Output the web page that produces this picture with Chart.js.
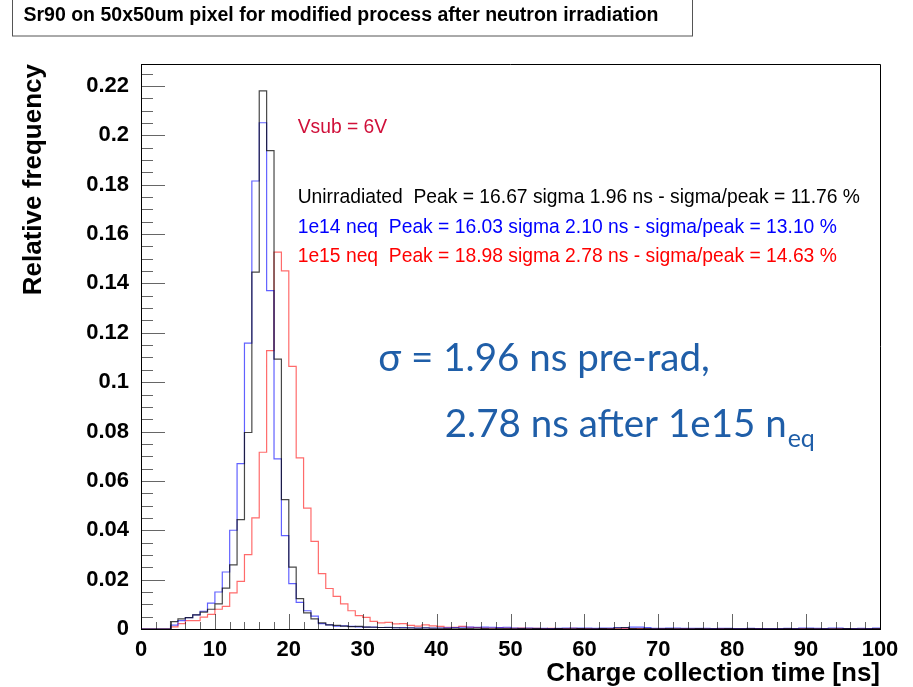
<!DOCTYPE html>
<html>
<head>
<meta charset="utf-8">
<script src="https://cdn.jsdelivr.net/npm/chart.js@4/dist/chart.umd.min.js"></script>
<style>
  html, body { margin: 0; padding: 0; background: #fff; }
  #wrap { width: 913px; height: 687px; position: relative; }
</style>
</head>
<body>
<div id="wrap"><canvas id="c" width="913" height="687"></canvas></div>
<script>
// Histogram bin low edges, 1 ns wide bins from 0 to 100 ns (last entry closes the final bin)
const binEdges = [
  0,1,2,3,4,5,6,7,8,9,10,11,12,13,14,15,16,17,18,19,
  20,21,22,23,24,25,26,27,28,29,30,31,32,33,34,35,36,37,38,39,
  40,41,42,43,44,45,46,47,48,49,50,51,52,53,54,55,56,57,58,59,
  60,61,62,63,64,65,66,67,68,69,70,71,72,73,74,75,76,77,78,79,
  80,81,82,83,84,85,86,87,88,89,90,91,92,93,94,95,96,97,98,99,100
];

// Relative frequency per bin
const unirradiated = [
  0,0,0,0,0.0030,0.0041,0.0046,0.0057,0.0068,0.0080,
  0.0102,0.0166,0.0260,0.0443,0.0796,0.1446,0.2180,0.1938,0.1093,0.0524,
  0.0251,0.0123,0.0065,0.0041,0.0025,0.0017,0.0015,0.0012,0.0010,0.0011,
  0.0008,0.0007,0.0006,0.0006,0.0005,0.0004,0.0004,0.0003,0.0004,0.0003,
  0.0003,0.0002,0.0003,0.0002,0.0002,0.0003,0.0002,0.0001,0.0002,0.0002,
  0.0001,0.0002,0.0001,0.0002,0.0001,0.0001,0.0002,0.0001,0.0001,0.0002,
  0.0001,0.0001,0.0002,0.0001,0.0004,0.0006,0.0002,0.0001,0.0002,0.0001,
  0.0001,0.0002,0.0001,0.0001,0.0001,0.0002,0.0001,0.0001,0.0001,0.0002,
  0.0001,0.0001,0.0002,0.0001,0.0001,0.0001,0.0001,0.0002,0.0001,0.0001,
  0.0002,0.0001,0.0001,0.0001,0.0001,0.0002,0.0001,0.0001,0.0001,0.0002
];
const neq1e14 = [
  0,0,0,0,0.0016,0.0034,0.0046,0.0057,0.0072,0.0105,
  0.0150,0.0231,0.0400,0.0670,0.1158,0.1815,0.2051,0.1371,0.0689,0.0378,
  0.0184,0.0108,0.0074,0.0052,0.0022,0.0017,0.0012,0.0013,0.0011,0.0009,
  0.0008,0.0008,0.0006,0.0007,0.0005,0.0006,0.0005,0.0004,0.0005,0.0004,
  0.0004,0.0005,0.0006,0.0007,0.0008,0.0007,0.0008,0.0007,0.0006,0.0007,
  0.0004,0.0003,0.0004,0.0003,0.0003,0.0002,0.0003,0.0004,0.0004,0.0004,
  0.0004,0.0003,0.0004,0.0004,0.0006,0.0005,0.0008,0.0008,0.0006,0.0003,
  0.0003,0.0004,0.0004,0.0003,0.0003,0.0003,0.0003,0.0002,0.0003,0.0003,
  0.0002,0.0002,0.0003,0.0002,0.0002,0.0002,0.0002,0.0003,0.0002,0.0004,
  0.0004,0.0003,0.0002,0.0004,0.0004,0.0002,0.0002,0.0003,0.0002,0.0004
];
const neq1e15 = [
  0,0,0,0,0.0009,0.0022,0.0034,0.0034,0.0048,0.0059,
  0.0080,0.0092,0.0146,0.0193,0.0301,0.0450,0.0716,0.1128,0.1527,0.1451,
  0.1064,0.0693,0.0490,0.0355,0.0224,0.0164,0.0132,0.0102,0.0074,0.0054,
  0.0047,0.0031,0.0025,0.0027,0.0021,0.0022,0.0015,0.0012,0.0017,0.0013,
  0.0011,0.0007,0.0007,0.0011,0.0007,0.0006,0.0004,0.0004,0.0005,0.0004,
  0.0003,0.0004,0.0003,0.0003,0.0002,0.0003,0.0002,0.0002,0.0003,0.0002,
  0.0002,0.0001,0.0002,0.0002,0.0001,0.0002,0.0001,0.0002,0.0001,0.0001,
  0.0002,0.0001,0.0001,0.0002,0.0001,0.0001,0.0001,0.0001,0.0002,0.0001,
  0.0001,0.0001,0.0001,0.0002,0.0001,0.0001,0.0001,0.0001,0.0001,0.0002,
  0.0001,0.0001,0.0001,0.0001,0.0002,0.0001,0.0001,0.0001,0.0001,0.0001
];

// Axis ticks
const xTickValues = [0,10,20,30,40,50,60,70,80,90,100];
const xTickLabels = ['0','10','20','30','40','50','60','70','80','90','100'];
const yTickValues = [0,0.02,0.04,0.06,0.08,0.1,0.12,0.14,0.16,0.18,0.2,0.22];
const yTickLabels = ['0','0.02','0.04','0.06','0.08','0.1','0.12','0.14','0.16','0.18','0.2','0.22'];

// Text
const plotTitle = 'Sr90 on 50x50um pixel for modified process after neutron irradiation';
const xTitle = 'Charge collection time [ns]';
const yTitle = 'Relative frequency';
const biasLabel = 'Vsub = 6V';
const seriesNames = ['Unirradiated', '1e14 neq', '1e15 neq'];
const fitLines = [
  'Unirradiated  Peak = 16.67 sigma 1.96 ns - sigma/peak = 11.76 %',
  '1e14 neq  Peak = 16.03 sigma 2.10 ns - sigma/peak = 13.10 %',
  '1e15 neq  Peak = 18.98 sigma 2.78 ns - sigma/peak = 14.63 %'
];
const noteLine1 = 'σ = 1.96 ns pre-rad,';
const noteLine2 = '2.78 ns after 1e15 n';
const noteSub = 'eq';

const seriesColors = ['rgba(0,0,0,0.72)', 'rgba(0,0,255,0.62)', 'rgba(255,0,0,0.58)'];
const textColors = ['#000000', '#0000ff', '#ff0000'];

function histPoints(values) {
  const pts = values.map((v, i) => ({ x: binEdges[i], y: v }));
  pts.push({ x: binEdges[values.length], y: values[values.length - 1] });
  return pts;
}

const PLOT = { left: 141, top: 64, right: 880, bottom: 629 };
const W = 913, H = 687;

// Frame, ROOT-style inward ticks, title box and annotations
const decor = {
  id: 'decor',
  afterDatasetsDraw(chart) {
    const { ctx, chartArea: a, scales: { x, y } } = chart;
    ctx.save();
    ctx.strokeStyle = '#000';
    ctx.lineWidth = 1;
    // frame top/right
    ctx.beginPath();
    ctx.moveTo(a.left, a.top + 0.5); ctx.lineTo(a.right + 0.5, a.top + 0.5);
    ctx.lineTo(a.right + 0.5, a.bottom);
    ctx.stroke();
    // x ticks: major every 10, minor every 2
    ctx.strokeStyle = 'rgba(0,0,0,0.6)';
    ctx.beginPath();
    for (let v = 0; v <= 100; v += 2) {
      const px = Math.round(x.getPixelForValue(v)) + 0.5;
      const len = (v % 10 === 0) ? 15 : 7;
      ctx.moveTo(px, a.bottom); ctx.lineTo(px, a.bottom - len);
    }
    // y ticks: major every 0.02, minor every 0.005
    for (let k = 0; k * 0.005 <= y.max + 1e-9; k++) {
      const py = Math.round(y.getPixelForValue(k * 0.005)) + 0.5;
      const len = (k % 4 === 0) ? 24 : 12;
      ctx.moveTo(a.left, py); ctx.lineTo(a.left + len, py);
    }
    ctx.stroke();
    ctx.restore();
  },
  afterDraw(chart) {
    const { ctx, scales: { x, y } } = chart;
    ctx.save();
    // title box
    ctx.strokeStyle = '#555';
    ctx.lineWidth = 1;
    ctx.strokeRect(12.5, -2, 680, 38);
    ctx.fillStyle = '#000';
    ctx.font = 'bold 19.5px "Liberation Sans", Arial, sans-serif';
    ctx.textAlign = 'center';
    ctx.textBaseline = 'middle';
    ctx.fillText(plotTitle, 341, 16);

    // bias label and fit results
    ctx.textAlign = 'left';
    ctx.font = '19.3px "Liberation Sans", Arial, sans-serif';
    ctx.fillStyle = '#d0103a';
    ctx.fillText(biasLabel, x.getPixelForValue(21.2), y.getPixelForValue(0.203));
    const rows = [0.1747, 0.1626, 0.1508];
    fitLines.forEach((t, i) => {
      ctx.fillStyle = textColors[i];
      ctx.fillText(t, x.getPixelForValue(21.2), y.getPixelForValue(rows[i]));
    });

    // resolution note
    ctx.fillStyle = '#1f5ea8';
    ctx.font = '38.5px Lato, "Open Sans", sans-serif';
    ctx.textBaseline = 'alphabetic';
    const x1 = x.getPixelForValue(32.1);
    const x2 = x.getPixelForValue(41.1);
    ctx.fillText(noteLine1, x1, y.getPixelForValue(0.1044));
    const base2 = y.getPixelForValue(0.0776);
    ctx.fillText(noteLine2, x2, base2);
    const w2 = ctx.measureText(noteLine2).width;
    ctx.font = '25px Lato, "Open Sans", sans-serif';
    ctx.fillText(noteSub, x2 + w2 + 1, base2 + 10);
    ctx.restore();
  }
};

const tickFont = { family: '"Liberation Sans", Arial, sans-serif', size: 22, weight: 'bold' };
const titleFont = { family: '"Liberation Sans", Arial, sans-serif', size: 26, weight: 'bold' };

new Chart(document.getElementById('c'), {
  type: 'line',
  data: {
    datasets: [unirradiated, neq1e14, neq1e15].map((vals, i) => ({
      label: seriesNames[i],
      data: histPoints(vals),
      borderColor: seriesColors[i],
      borderWidth: 1.2,
      stepped: 'before',
      fill: false,
      pointRadius: 0,
      tension: 0
    }))
  },
  options: {
    responsive: false,
    animation: false,
    events: [],
    layout: { padding: { left: 10, top: PLOT.top, right: W - PLOT.right, bottom: 0 } },
    plugins: { legend: { display: false }, tooltip: { enabled: false }, title: { display: false } },
    scales: {
      x: {
        type: 'linear',
        min: 0, max: 100,
        grid: { display: false, drawTicks: false },
        border: { display: true, color: '#000', width: 1 },
        afterBuildTicks: s => { s.ticks = xTickValues.map(v => ({ value: v })); },
        afterFit: s => { s.height = H - PLOT.bottom; },
        ticks: {
          color: '#000', font: tickFont, padding: 8, maxRotation: 0,
          callback: (v, i) => xTickLabels[i]
        },
        title: { display: true, text: xTitle, align: 'end', color: '#000', font: titleFont, padding: { top: 0, bottom: -2 } }
      },
      y: {
        type: 'linear',
        min: 0, max: 0.2289,
        grid: { display: false, drawTicks: false },
        border: { display: true, color: '#000', width: 1 },
        afterBuildTicks: s => { s.ticks = yTickValues.map(v => ({ value: v })); },
        afterFit: s => { s.width = PLOT.left - 10; },
        ticks: {
          color: '#000', font: tickFont, padding: 12,
          callback: (v, i) => yTickLabels[i]
        },
        title: { display: true, text: yTitle, align: 'end', color: '#000', font: titleFont, padding: { top: 8, bottom: 0 } }
      }
    }
  },
  plugins: [decor]
});
</script>
</body>
</html>
